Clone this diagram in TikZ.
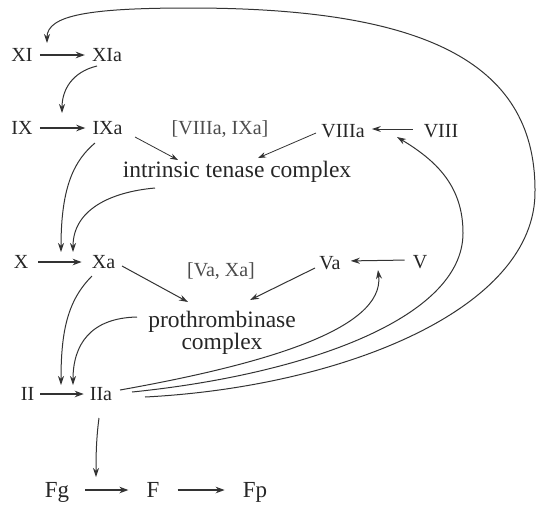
\documentclass[tikz,border=0pt]{standalone}
\usepackage{fontspec}
\setmainfont{Liberation Serif}
\usetikzlibrary{arrows.meta}
\begin{document}
\begin{tikzpicture}[x=1pt,y=-1pt,
  fac/.style={font=\fontsize{20}{24}\selectfont, text height=13.2pt, text depth=0pt, inner sep=4pt, text=black!85},
  facL/.style={font=\fontsize{23}{27}\selectfont, text height=15.2pt, text depth=0pt, inner sep=4pt, text=black!85},
  cplx/.style={font=\fontsize{23.5}{22}\selectfont, align=center, inner sep=0pt, text=black!85},
  brk/.style={font=\fontsize{20}{24}\selectfont, inner sep=0pt, text=black!70},
  thick arr/.style={line width=1.5pt, black!80, -{Stealth[length=9pt,width=6.5pt]}, shorten <=3pt, shorten >=3pt},
  curve arr/.style={line width=1pt, black!80, -{Stealth[length=9pt,width=6pt]}},
  thin arr/.style={line width=0.8pt, black!80, -{Stealth[length=8pt,width=5.5pt]}}
]
\useasboundingbox (0,0) rectangle (537,507);

\node[fac] (XI) at (22,55) {XI};
\node[fac] (XIa) at (107,55) {XIa};
\node[fac] (IX) at (22,128) {IX};
\node[fac] (IXa) at (107.5,128) {IXa};
\node[brk] (b8) at (220,129) {[VIIIa, IXa]};
\node[fac] (VIIIa) at (343,131) {VIIIa};
\node[fac] (VIII) at (441,131) {VIII};
\node[cplx] (ten) at (237,172) {intrinsic tenase complex};
\node[fac] (X) at (21,262) {X};
\node[fac] (Xa) at (103.5,262) {Xa};
\node[brk] (b5) at (221,271) {[Va, Xa]};
\node[fac] (Va) at (330,263) {Va};
\node[fac] (V) at (420,262) {V};
\node[cplx] (pro) at (222,333) {prothrombinase\\complex};
\node[fac] (II) at (27.5,394) {II};
\node[fac] (IIa) at (101,394) {IIa};
\node[facL] (Fg) at (57,490) {Fg};
\node[facL] (F) at (153,490) {F};
\node[facL] (Fp) at (255,490) {Fp};

% straight conversions
\draw[thick arr] (XI.east) -- (XIa.west);
\draw[thick arr] (IX.east) -- (IXa.west);
\draw[thick arr, shorten <=6pt, shorten >=6pt] (X.east) -- (Xa.west);
\draw[thick arr, shorten <=2pt, shorten >=2pt] (II.east) -- (IIa.west);
\draw[thick arr, shorten <=12pt, shorten >=14pt] (Fg.east) -- (F.west);
\draw[thick arr, shorten <=14pt, shorten >=14pt] (F.east) -- (Fp.west);
\draw[curve arr, shorten <=7pt, shorten >=3pt] ([yshift=2pt]VIII.west) -- ([yshift=2pt]VIIIa.east);
\draw[curve arr, shorten <=4pt, shorten >=6pt] ([yshift=2pt]V.west) -- ([yshift=2pt]Va.east);

% diagonal inputs to complexes
\draw[thin arr] ([shift={(27.5,9)}]IXa.center) -- ([shift={(-59,-12)}]ten.center);
\draw[thin arr] ([shift={(-27,2)}]VIIIa.center) -- ([shift={(21,-14)}]ten.center);
\draw[curve arr] ([shift={(18.5,4)}]Xa.center) -- ([shift={(-34,-31)}]pro.center);
\draw[curve arr] ([shift={(-15,5)}]Va.center) -- ([shift={(28,-33)}]pro.center);

% curved activations
\draw[curve arr] ([shift={(-10,11)}]XIa.center) .. controls (72,72) and (62,90) .. ([shift={(-45.5,-15)}]IXa.center);
\draw[curve arr] ([shift={(-12.5,15)}]IXa.center) .. controls (75,160) and (61,185) .. ([shift={(-42.5,-10)}]Xa.center);
\draw[curve arr] ([shift={(-82,16)}]ten.center) .. controls (110,192) and (73,210) .. ([shift={(-30.5,-10)}]Xa.center);
\draw[curve arr] ([shift={(-11.5,14)}]Xa.center) .. controls (68,300) and (61,330) .. ([shift={(-40,-9)}]IIa.center);
\draw[curve arr] ([shift={(-85,-16)}]pro.center) .. controls (90,318) and (73,345) .. ([shift={(-28,-9)}]IIa.center);
\draw[curve arr] ([shift={(-2,24)}]IIa.center) .. controls (96,440) and (96,460) .. ([shift={(39,-13)}]Fg.center);

% thrombin feedback loops
\draw[curve arr] ([shift={(19,-4)}]IIa.center) .. controls (260,365) and (385,330) .. ([shift={(48,7)}]Va.center);
\draw[curve arr] ([shift={(31,-2)}]IIa.center) .. controls (300,375) and (463,320) .. (463,233)
   .. controls (463,185) and (435,160) .. ([shift={(54,6)}]VIIIa.center);
\draw[curve arr] ([shift={(44,3)}]IIa.center) .. controls (340,387) and (537,310) .. (535,190)
   .. controls (535,60) and (420,8) .. (190,8) .. controls (90,8) and (47,15) .. ([shift={(25,-12)}]XI.center);
\end{tikzpicture}
\end{document}
